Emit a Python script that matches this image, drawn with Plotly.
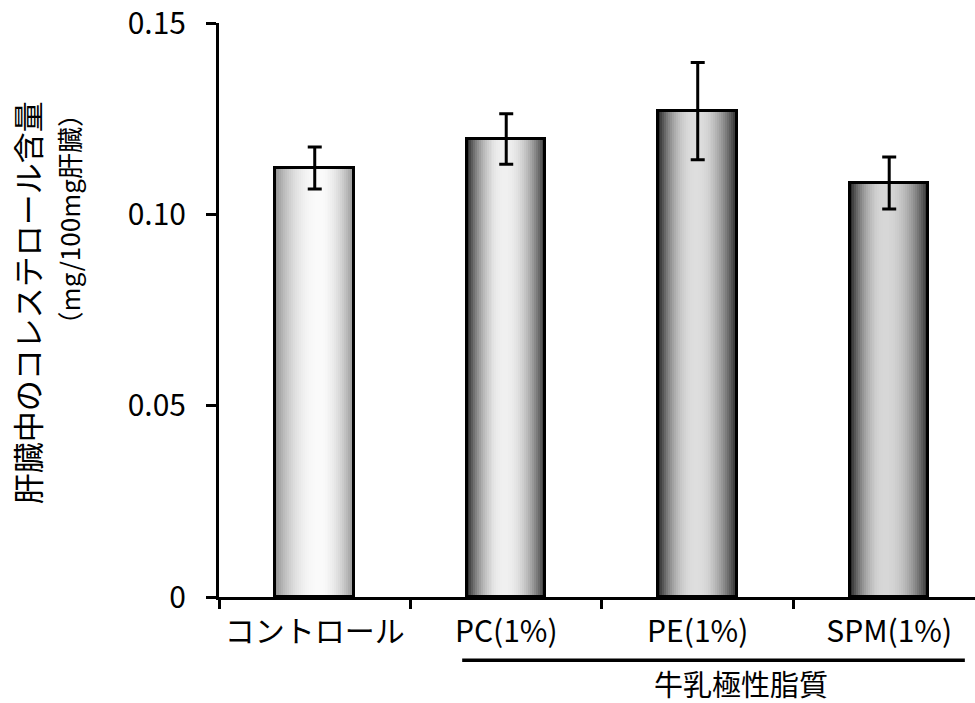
import plotly.graph_objects as go

# ---- data ----
categories = ["コントロール", "PC(1%)", "PE(1%)", "SPM(1%)"]
cholesterol = [0.1121, 0.1197, 0.1270, 0.1082]
sem = [0.0055, 0.0066, 0.0127, 0.0068]
y_tickvals = [0, 0.05, 0.10, 0.15]
y_ticktext = ["0", "0.05", "0.10", "0.15"]
y_title = "肝臓中のコレステロール含量"
y_unit = "（mg/100mg肝臓）"
group_label = "牛乳極性脂質"

FONT = "Noto Sans CJK JP"
BAR_W = 0.41
N_SLICES = 40

# per-bar gradient: (edge grey, peak grey, peak position)
shade = [(145, 250, 0.55), (40, 240, 0.48), (35, 222, 0.47), (35, 215, 0.45)]


def grey(t, edge, peak, c):
    half = c if t < c else 1 - c
    d = abs(t - c) / half
    v = edge + (peak - edge) * (1 - d ** 2.2)
    v = int(round(v))
    return f"rgb({v},{v},{v})"


fig = go.Figure()
for i in range(N_SLICES):
    t = (i + 0.5) / N_SLICES
    colors = [grey(t, *s) for s in shade]
    fig.add_trace(go.Bar(
        x=categories, y=cholesterol,
        width=BAR_W / N_SLICES * 1.1,
        offset=-BAR_W / 2 + i * BAR_W / N_SLICES,
        marker=dict(color=colors, line=dict(width=0)),
        hoverinfo="skip", showlegend=False,
    ))

# outline + error bars
fig.add_trace(go.Bar(
    x=categories, y=cholesterol, width=BAR_W, offset=-BAR_W / 2,
    marker=dict(color="rgba(0,0,0,0)", line=dict(color="black", width=3)),
    error_y=dict(type="data", array=sem, visible=True, color="black",
                 thickness=3, width=7),
    showlegend=False,
))

# group underline and label
fig.add_shape(type="line", xref="x", yref="paper",
              x0=0.77, x1=3.395, y0=-0.110, y1=-0.110,
              line=dict(color="black", width=3.5))
fig.add_annotation(x=2.225, y=-0.150, xref="x", yref="paper",
                   text=group_label, showarrow=False, borderpad=0,
                   font=dict(family=FONT, size=29, color="black"),
                   xanchor="center", yanchor="middle")

# y-axis title (two lines, placed as in the reference)
fig.add_annotation(x=-0.255, y=0.512, xref="paper", yref="paper",
                   text=y_title, textangle=-90, showarrow=False,
                   font=dict(family=FONT, size=31, color="black"),
                   xanchor="center", yanchor="middle")
fig.add_annotation(x=-0.199, y=0.657, xref="paper", yref="paper",
                   text=y_unit, textangle=-90, showarrow=False,
                   font=dict(family=FONT, size=26, color="black"),
                   xanchor="center", yanchor="middle")

fig.update_layout(
    width=975, height=703,
    margin=dict(l=219, r=0, t=23, b=106),
    paper_bgcolor="white", plot_bgcolor="white",
    barmode="overlay", bargap=0,
    font=dict(family=FONT, color="black"),
    showlegend=False,
)
fig.update_xaxes(
    type="category", range=[-0.5, 3.448],
    showline=True, linecolor="black", linewidth=3,
    ticks="outside", tickson="boundaries", ticklen=9, tickwidth=3, tickcolor="black",
    tickfont=dict(family=FONT, size=30, color="black"),
    ticklabelstandoff=6, ticklabeloverflow="allow",
    showgrid=False, zeroline=False, fixedrange=True,
)
fig.update_yaxes(
    range=[0, 0.15001], tickvals=y_tickvals, ticktext=y_ticktext,
    showline=True, linecolor="black", linewidth=3,
    ticks="outside", ticklen=10, tickwidth=3, tickcolor="black",
    tickfont=dict(family=FONT, size=30, color="black"),
    ticklabelstandoff=14, ticklabeloverflow="allow",
    showgrid=False, zeroline=False, fixedrange=True,
    automargin=False,
)

fig.write_html("out.html", config={"displayModeBar": False},
               post_script="document.body.style.margin='0';document.body.style.overflow='hidden';")
